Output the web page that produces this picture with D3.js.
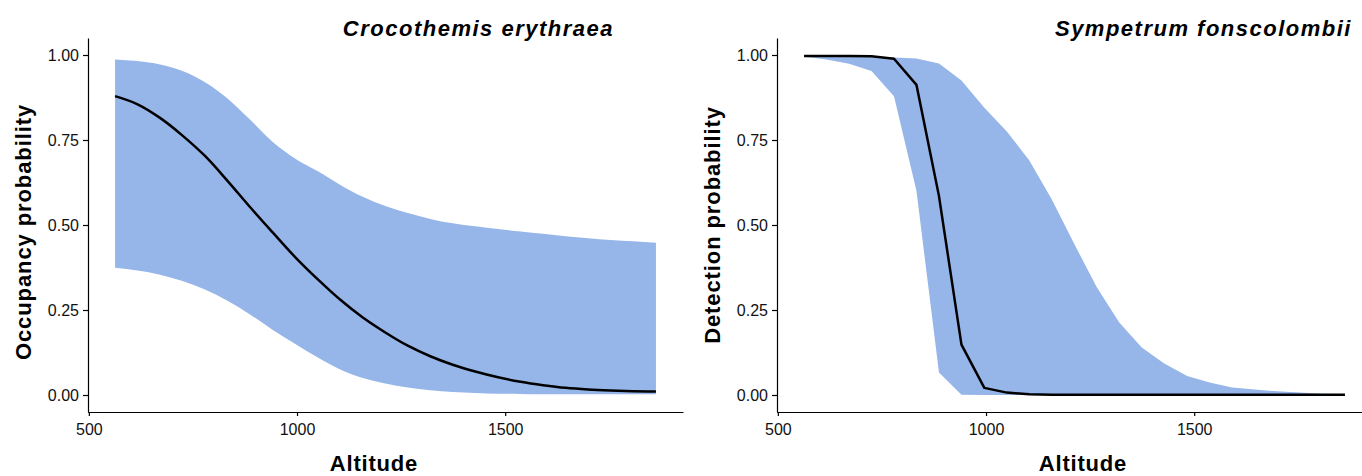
<!DOCTYPE html>
<html>
<head>
<meta charset="utf-8">
<script src="https://cdn.jsdelivr.net/npm/d3@7"></script>
<style>
  body { margin: 0; background: #fff; }
  svg { display: block; font-family: "Liberation Sans", Arial, sans-serif; }
  .tick text { font-size: 16px; fill: #111; }
  .axis path, .axis line { stroke: #000; stroke-width: 1.2; }
</style>
</head>
<body>
<script>
var WIDTH = 1362, HEIGHT = 476;

// altitude grid (m) the model was evaluated on
var altitude = [563, 617, 671, 725, 779, 833, 887, 941, 996, 1050, 1104, 1158, 1212,
                1266, 1320, 1374, 1428, 1483, 1537, 1591, 1645, 1699, 1753, 1807, 1862];

// Crocothemis erythraea - occupancy
var occMean  = [0.879, 0.855, 0.815, 0.763, 0.703, 0.630, 0.553, 0.479, 0.405, 0.340, 0.280, 0.228, 0.184,
                0.145, 0.114, 0.089, 0.069, 0.052, 0.039, 0.029, 0.021, 0.016, 0.013, 0.011, 0.010];
var occLower = [0.374, 0.366, 0.354, 0.335, 0.310, 0.277, 0.237, 0.192, 0.150, 0.110, 0.075, 0.050, 0.034,
                0.022, 0.014, 0.009, 0.006, 0.004, 0.003, 0.002, 0.002, 0.002, 0.002, 0.002, 0.002];
var occUpper = [0.987, 0.982, 0.972, 0.953, 0.920, 0.872, 0.810, 0.745, 0.695, 0.658, 0.618, 0.583, 0.556,
                0.535, 0.518, 0.505, 0.496, 0.488, 0.481, 0.474, 0.467, 0.461, 0.456, 0.452, 0.448];

// Sympetrum fonscolombii - detection
var detMean  = [0.997, 0.997, 0.997, 0.996, 0.989, 0.912, 0.585, 0.148, 0.021, 0.007, 0.002, 0.001, 0.001,
                0.001, 0.001, 0.001, 0.001, 0.001, 0.001, 0.001, 0.001, 0.001, 0.001, 0.001, 0.001];
var detLower = [0.995, 0.987, 0.974, 0.953, 0.879, 0.600, 0.066, 0.001, 0.000, 0.000, 0.000, 0.000, 0.000,
                0.000, 0.000, 0.000, 0.000, 0.000, 0.000, 0.000, 0.000, 0.000, 0.000, 0.000, 0.000];
var detUpper = [0.997, 0.997, 0.996, 0.995, 0.993, 0.990, 0.975, 0.925, 0.845, 0.775, 0.690, 0.575, 0.444,
                0.317, 0.213, 0.140, 0.093, 0.056, 0.037, 0.022, 0.016, 0.011, 0.007, 0.004, 0.003];

var xTicks = [500, 1000, 1500];
var yTicks = [0, 0.25, 0.5, 0.75, 1];

var svg = d3.select("body")
    .append("svg")
    .attr("width", WIDTH)
    .attr("height", HEIGHT);

function drawPanel(opts) {
    var x = d3.scaleLinear().domain([498, 1927]).range([opts.left, opts.left + 595]);
    var y = d3.scaleLinear().domain([-0.05, 1.05]).range([412, 38]);

    var rows = altitude.map(function (a, i) {
        return {alt: a, mean: opts.mean[i], lo: opts.lower[i], hi: opts.upper[i]};
    });

    var area = d3.area()
        .curve(opts.curve)
        .x(function (d) { return x(d.alt); })
        .y0(function (d) { return y(d.lo); })
        .y1(function (d) { return y(d.hi); });

    var line = d3.line()
        .curve(opts.curve)
        .x(function (d) { return x(d.alt); })
        .y(function (d) { return y(d.mean); });

    svg.append("path")
        .datum(rows)
        .attr("fill", "#96b5e9")
        .attr("d", area);

    svg.append("path")
        .datum(rows)
        .attr("fill", "none")
        .attr("stroke", "#000")
        .attr("stroke-width", 2.5)
        .attr("stroke-linejoin", "round")
        .attr("d", line);

    svg.append("g")
        .attr("class", "axis")
        .attr("transform", "translate(0,412)")
        .call(d3.axisBottom(x).tickValues(xTicks).tickSize(4).tickSizeOuter(0).tickPadding(8)
            .tickFormat(d3.format("d")));

    svg.append("g")
        .attr("class", "axis")
        .attr("transform", "translate(" + opts.left + ",0)")
        .call(d3.axisLeft(y).tickValues(yTicks).tickSize(5).tickSizeOuter(0).tickPadding(4)
            .tickFormat(d3.format(".2f")));

    svg.selectAll(".axis .domain").attr("stroke-width", 1.5);

    // title, top right, bold italic
    svg.append("text")
        .attr("x", opts.titleX)
        .attr("y", 36)
        .attr("text-anchor", "end")
        .style("font-size", "22px")
        .style("font-weight", "bold")
        .style("font-style", "italic")
        .style("letter-spacing", "1.5px")
        .text(opts.title);

    svg.append("text")
        .attr("x", opts.xLabelX)
        .attr("y", 471)
        .attr("text-anchor", "middle")
        .style("font-size", "22px")
        .style("font-weight", "bold")
        .style("letter-spacing", "0.8px")
        .text("Altitude");

    svg.append("text")
        .attr("transform", "translate(" + opts.yLabelX + "," + opts.yLabelY + ") rotate(-90)")
        .attr("text-anchor", "middle")
        .style("font-size", "22px")
        .style("font-weight", "bold")
        .style("letter-spacing", "0.9px")
        .text(opts.yLabel);
}

drawPanel({
    left: 88, mean: occMean, lower: occLower, upper: occUpper,
    curve: d3.curveMonotoneX,
    title: "Crocothemis erythraea", titleX: 614,
    xLabelX: 374, yLabel: "Occupancy probability", yLabelX: 31, yLabelY: 232
});

drawPanel({
    left: 777, mean: detMean, lower: detLower, upper: detUpper,
    curve: d3.curveLinear,
    title: "Sympetrum fonscolombii", titleX: 1352,
    xLabelX: 1083, yLabel: "Detection probability", yLabelX: 720, yLabelY: 225
});
</script>
</body>
</html>
